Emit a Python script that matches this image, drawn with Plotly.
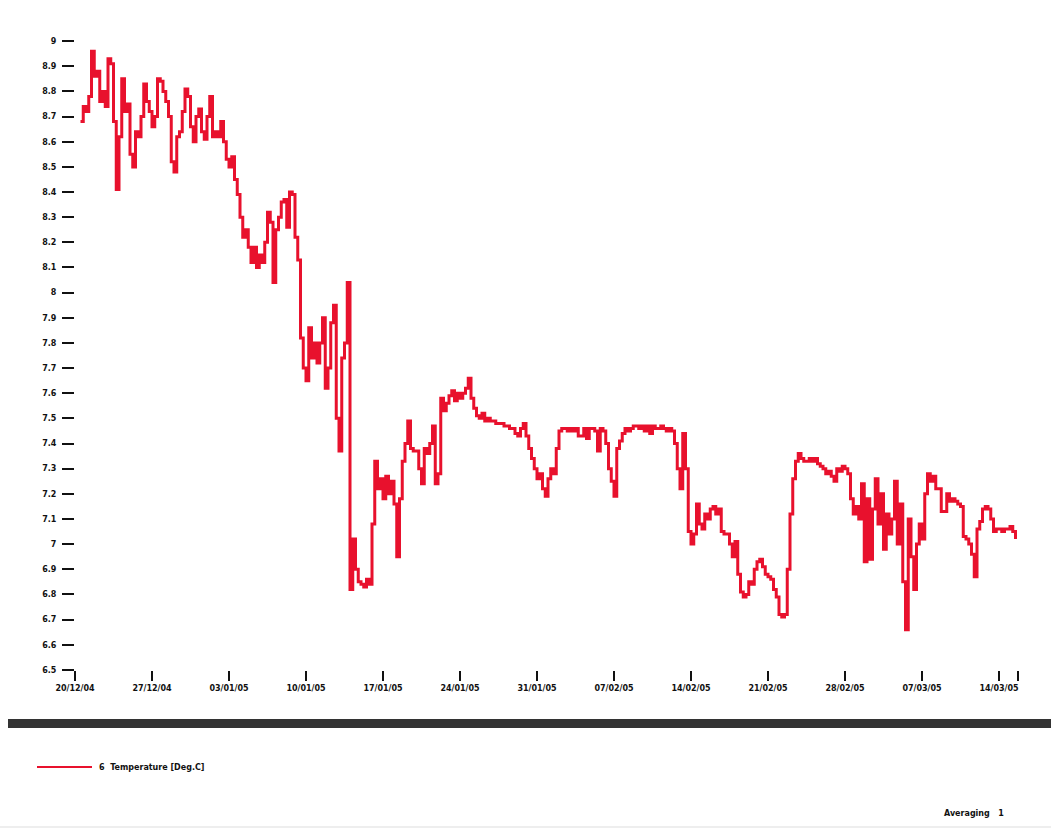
import pandas as pd
import plotly.graph_objects as go

# Logger channel 6: temperature, one reading every 6 hours
start_time = "2004-12-20 12:00"
sample_freq = "6h"
temps = [
    8.68, 8.74,
    8.72, 8.78, 8.96, 8.86,
    8.88, 8.76, 8.80, 8.74,
    8.93, 8.91, 8.68, 8.41,
    8.62, 8.85, 8.72, 8.75,
    8.55, 8.50, 8.64, 8.62,
    8.70, 8.83, 8.76, 8.72,
    8.66, 8.70, 8.85, 8.84,
    8.80, 8.76, 8.70, 8.52,
    8.48, 8.62, 8.64, 8.72,
    8.81, 8.78, 8.66, 8.60,
    8.70, 8.73, 8.64, 8.61,
    8.70, 8.78, 8.62, 8.64,
    8.62, 8.68, 8.60, 8.53,
    8.50, 8.54, 8.45, 8.39,
    8.30, 8.22, 8.25, 8.18,
    8.12, 8.18, 8.10, 8.15,
    8.12, 8.20, 8.32, 8.28,
    8.04, 8.25, 8.30, 8.36,
    8.37, 8.26, 8.40, 8.39,
    8.22, 8.13, 7.82, 7.70,
    7.65, 7.86, 7.74, 7.80,
    7.72, 7.80, 7.90, 7.62,
    7.70, 7.88, 7.95, 7.50,
    7.37, 7.74, 7.80, 8.04,
    6.82, 7.02, 6.90, 6.85,
    6.84, 6.83, 6.86, 6.84,
    7.08, 7.33, 7.22, 7.26,
    7.18, 7.27, 7.20, 7.25,
    7.16, 6.95, 7.18, 7.33,
    7.40, 7.49, 7.38, 7.37,
    7.37, 7.30, 7.24, 7.38,
    7.36, 7.40, 7.47, 7.24,
    7.28, 7.58, 7.53, 7.56,
    7.59, 7.61, 7.57, 7.60,
    7.58, 7.60, 7.62, 7.66,
    7.58, 7.54, 7.51, 7.50,
    7.52, 7.49, 7.50, 7.49,
    7.49, 7.48, 7.48, 7.48,
    7.47, 7.47, 7.46, 7.46,
    7.44, 7.43, 7.46, 7.48,
    7.43, 7.38, 7.34, 7.30,
    7.26, 7.28, 7.22, 7.19,
    7.26, 7.30, 7.28, 7.38,
    7.45, 7.46, 7.46, 7.45,
    7.46, 7.45, 7.46, 7.43,
    7.43, 7.46, 7.42, 7.46,
    7.46, 7.45, 7.37, 7.46,
    7.45, 7.40, 7.30, 7.25,
    7.19, 7.38, 7.41, 7.44,
    7.46, 7.45, 7.46, 7.47,
    7.47, 7.46, 7.47, 7.45,
    7.47, 7.44, 7.47, 7.46,
    7.46, 7.47, 7.46, 7.45,
    7.46, 7.45, 7.40, 7.30,
    7.22, 7.44, 7.30, 7.05,
    7.00, 7.04, 7.16, 7.08,
    7.06, 7.12, 7.10, 7.14,
    7.15, 7.12, 7.14, 7.05,
    7.04, 7.04, 7.00, 6.95,
    7.01, 6.88, 6.81, 6.79,
    6.80, 6.85, 6.84, 6.90,
    6.93, 6.94, 6.91, 6.88,
    6.87, 6.86, 6.82, 6.79,
    6.72, 6.71, 6.72, 6.90,
    7.12, 7.26, 7.33, 7.36,
    7.34, 7.33, 7.33, 7.34,
    7.33, 7.34, 7.32, 7.31,
    7.30, 7.28, 7.29, 7.27,
    7.25, 7.30, 7.29, 7.31,
    7.30, 7.28, 7.18, 7.12,
    7.15, 7.10, 7.24, 6.93,
    7.18, 6.94, 7.14, 7.26,
    7.08, 7.20, 6.98, 7.12,
    7.04, 7.10, 7.25, 7.00,
    7.16, 6.85, 6.66, 7.10,
    6.95, 6.82, 7.00, 7.08,
    7.02, 7.20, 7.28, 7.25,
    7.27, 7.22, 7.22, 7.13,
    7.13, 7.20, 7.17, 7.18,
    7.17, 7.16, 7.15, 7.03,
    7.02, 7.00, 6.96, 6.87,
    7.06, 7.09, 7.14, 7.15,
    7.14, 7.10, 7.05, 7.06,
    7.06, 7.05, 7.06, 7.06,
    7.07, 7.05, 7.02,
]

# Axis ticks
x_tick_dates = ["2004-12-20", "2004-12-27", "2005-01-03", "2005-01-10",
                "2005-01-17", "2005-01-24", "2005-01-31", "2005-02-07",
                "2005-02-14", "2005-02-21", "2005-02-28", "2005-03-07",
                "2005-03-14"]
x_axis_start = "2004-12-20 00:00"
x_axis_end = "2005-03-15 17:27"
y_tick_values = [9.0, 8.9, 8.8, 8.7, 8.6, 8.5, 8.4, 8.3, 8.2, 8.1, 8.0,
                 7.9, 7.8, 7.7, 7.6, 7.5, 7.4, 7.3, 7.2, 7.1, 7.0,
                 6.9, 6.8, 6.7, 6.6, 6.5]

series_name = "6  Temperature [Deg.C]"
footer_text = "Averaging   1"

times = pd.date_range(start=start_time, periods=len(temps), freq=sample_freq)

RED = "#E8112D"
W, H = 1051, 831
L, R, T, B = 75, 33, 41, 161
PW, PH = W - L - R, H - T - B


def px(x):
    return (x - L) / PW


def py(y):
    return (H - B - y) / PH


y_text = [("%g" % v) for v in y_tick_values]
x_vals = [pd.Timestamp(d) for d in x_tick_dates] + [pd.Timestamp(x_axis_end)]
x_text = [pd.Timestamp(d).strftime("%d/%m/%y") for d in x_tick_dates] + [""]

font_lab = dict(family="DejaVu Sans, Arial, sans-serif", size=8,
                color="#111", weight="bold")

fig = go.Figure()
fig.add_trace(go.Scatter(
    x=times, y=temps, mode="lines", line_shape="hv",
    line=dict(color=RED, width=3), name=series_name, showlegend=False,
))

fig.update_layout(
    width=W, height=H,
    margin=dict(l=L, r=R, t=T, b=B, autoexpand=False),
    paper_bgcolor="white", plot_bgcolor="white",
    xaxis=dict(
        range=[x_axis_start, x_axis_end],
        tickmode="array", tickvals=x_vals, ticktext=x_text,
        ticks="outside", ticklen=10, tickwidth=1.5, tickcolor="#111",
        showgrid=False, showline=False, zeroline=False,
        tickfont=font_lab,
    ),
    yaxis=dict(
        range=[6.4995, 9.0005],
        tickmode="array", tickvals=y_tick_values, ticktext=y_text,
        ticks="outside", ticklen=12, tickwidth=2, tickcolor="#111",
        showgrid=False, showline=False, zeroline=False,
        tickfont=font_lab, ticklabelstandoff=4,
    ),
    shapes=[
        # heavy separator under the chart
        dict(type="rect", xref="paper", yref="paper",
             x0=px(8), x1=px(1051), y0=py(728), y1=py(719),
             fillcolor="#333333", line=dict(width=0)),
        # legend sample line
        dict(type="line", xref="paper", yref="paper",
             x0=px(37), x1=px(92), y0=py(767), y1=py(767),
             line=dict(color=RED, width=2)),
        # faint rule at the foot of the page
        dict(type="line", xref="paper", yref="paper",
             x0=px(0), x1=px(1051), y0=py(827), y1=py(827),
             line=dict(color="#dddddd", width=1)),
    ],
    annotations=[
        dict(text=series_name, xref="paper", yref="paper",
             x=px(97), y=py(767), xanchor="left", yanchor="middle",
             showarrow=False, font=font_lab),
        dict(text=footer_text, xref="paper", yref="paper",
             x=px(1006), y=py(813), xanchor="right", yanchor="middle",
             showarrow=False, font=font_lab),
    ],
)

fig.write_html("out.html")
